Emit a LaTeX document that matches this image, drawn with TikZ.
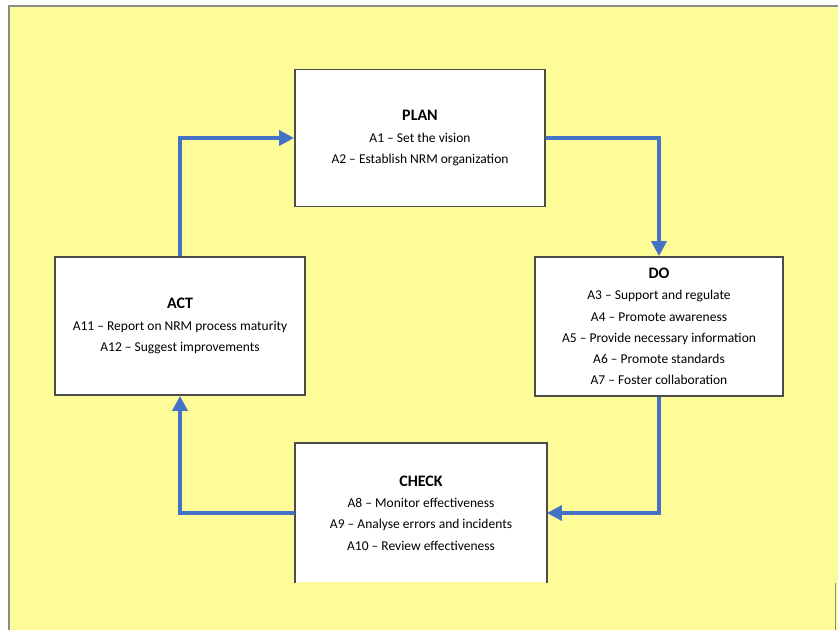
\documentclass[tikz,border=0pt]{standalone}
\usepackage{fontspec}
\setmainfont{Carlito}
\usetikzlibrary{arrows.meta}
\definecolor{bgyellow}{RGB}{254,252,153}
\definecolor{flowblue}{RGB}{68,114,196}
\begin{document}
\begin{tikzpicture}[
	x=1pt, y=-1pt,
	phase/.style={ draw=black!70, line width=1.8pt, fill=white, align=center, minimum width=250pt, minimum height=137pt, inner sep=0pt, font=\fontsize{13.5}{21.2}\selectfont },
	flow/.style={ flowblue, line width=3.4pt, -{Triangle[length=15pt,width=15pt]} }
]
	\useasboundingbox (0,0) rectangle (838,630);
	\fill[bgyellow] (9,6) rectangle (838,630);
	\draw[black!45, line width=1.5pt] (9,630) -- (9,6) -- (838,6);
	\draw[black!45, line width=1pt] (835,583) -- (835,630);
	\node at (420,138) (plan) [phase] {{\fontsize{16}{21.2}\selectfont\bfseries PLAN}\\A1 -- Set the vision\\A2 -- Establish NRM organization};
	\node at (659,326.5) (do) [phase, minimum width=248pt, minimum height=139pt] {{\fontsize{16}{21.2}\selectfont\bfseries DO}\\A3 -- Support and regulate\\A4 -- Promote awareness\\A5 -- Provide necessary information\\A6 -- Promote standards\\A7 -- Foster collaboration};
	\node at (180,326) (act) [phase, minimum height=138pt] {{\fontsize{16}{21.2}\selectfont\bfseries ACT}\\A11 -- Report on NRM process maturity\\A12 -- Suggest improvements};
	\node at (421,513) (check) [phase, draw=none, minimum height=138pt] {{\fontsize{16}{21.2}\selectfont\bfseries CHECK}\\A8 -- Monitor effectiveness\\A9 -- Analyse errors and incidents\\A10 -- Review effectiveness};
	\draw[black!70, line width=1.8pt] (check.south west) |- (check.north east) -- (check.south east);
	\draw[flow] (act.north) |- (plan.west);
	\draw[flow] (plan.east) -| (do.north);
	\draw[flow] (do.south) |- (check.east);
	\draw[flow] (check.west) -| (act.south);
\end{tikzpicture}
\end{document}
